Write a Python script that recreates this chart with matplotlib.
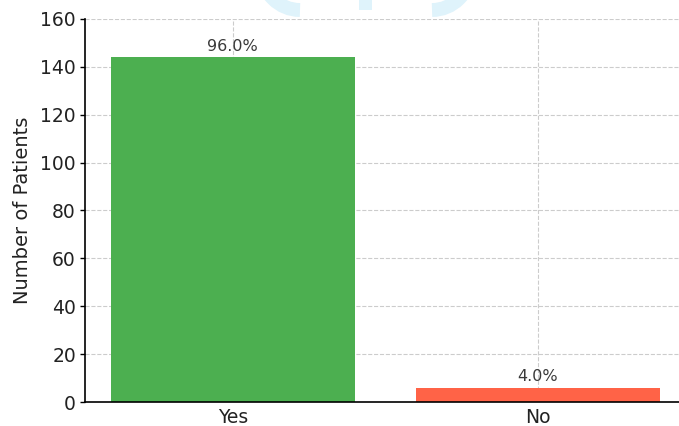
import matplotlib
matplotlib.use("Agg")
import matplotlib.pyplot as plt
from matplotlib.patches import Arc, Rectangle

categories = ["Yes", "No"]
patients = [144, 6]
percent_labels = ["96.0%", "4.0%"]
bar_colors = ["#4CAF50", "#FF6347"]
y_ticks = [0, 20, 40, 60, 80, 100, 120, 140, 160]

W, H = 679, 426
fig = plt.figure(figsize=(W / 100, H / 100), dpi=100)

# faint watermark at top
wm = "#dff3fb"
fig.patches.append(Arc((300 / W, 1 + 28 / H), 76 / W, 76 / H, theta1=180, theta2=270,
                       lw=10, ec=wm, transform=fig.transFigure, zorder=0))
fig.patches.append(Arc((432 / W, 1 + 28 / H), 76 / W, 76 / H, theta1=270, theta2=360,
                       lw=10, ec=wm, transform=fig.transFigure, zorder=0))
fig.patches.append(Rectangle((359 / W, 1 - 10 / H), 13 / W, 12 / H, fc=wm, ec="none",
                             transform=fig.transFigure, zorder=0))

ax = fig.add_axes([85 / W, 1 - 402 / H, 602 / W, 383 / H])
x = range(len(categories))
bars = ax.bar(x, patients, width=0.8, color=bar_colors, zorder=2)

for b, lab in zip(bars, percent_labels):
    ax.text(b.get_x() + b.get_width() / 2, b.get_height() + 1.5, lab,
            ha="center", va="bottom", fontsize=11.5, color="#3a3a3a", zorder=4)

ax.set_xticks(list(x))
ax.set_xticklabels(categories, fontsize=13.5, color="#222222")
ax.set_yticks(y_ticks)
ax.set_yticklabels([str(t) for t in y_ticks], fontsize=13.5, color="#222222")
ax.set_ylim(0, 160)
ax.set_xlim(-0.485, 1.49)
ax.set_ylabel("Number of Patients", fontsize=14, labelpad=6, color="#222222")

ax.grid(True, linestyle="--", color="#cccccc", linewidth=0.8, zorder=1)
ax.set_axisbelow(True)
ax.spines["top"].set_visible(False)
ax.spines["right"].set_visible(False)
ax.tick_params(axis="x", direction="in", length=4, width=1.2, pad=4.5)
ax.tick_params(axis="y", direction="out", length=3.5, width=1, pad=3)
for s in ("left", "bottom"):
    ax.spines[s].set_linewidth(1.2)

fig.savefig("out.png", dpi=100)
